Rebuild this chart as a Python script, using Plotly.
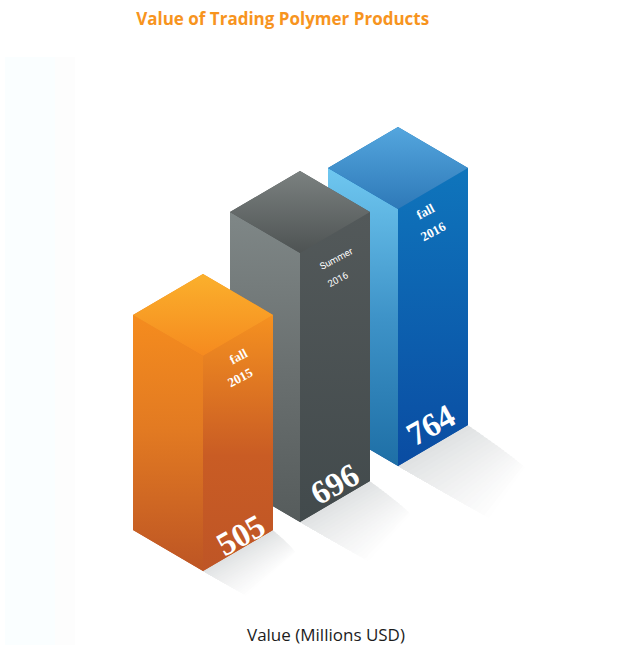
import plotly.graph_objects as go

# ---- data ----
periods = ["fall", "Summer", "fall"]
years = ["2015", "2016", "2016"]
values = [505, 696, 764]
# Column heights as drawn in the artwork (the columns are not to a common scale)
drawn_heights = [215, 269, 257]

# ---- layout of the isometric scene (page pixels) ----
base_x = [203, 300, 398]
base_y = [571, 522, 466]
HALF_W, HALF_D = 70, 41
shadow_len = [52, 82, 110]
left_cols = [[(0, "#F58C1E"), (0.45, "#E27A22"), (1, "#BD5524")],
             [(0, "#7F8787"), (0.5, "#6A7070"), (1, "#565C5C")],
             [(0, "#6FC7F0"), (0.5, "#3E93C8"), (1, "#1E6FA6")]]
right_cols = [[(0, "#F59120"), (0.55, "#C95C24"), (1, "#BE5526")],
              [(0, "#53595A"), (1, "#424A4C")],
              [(0, "#0F75BC"), (1, "#0A4CA2")]]
top_cols = [[(0, "#FBB02C"), (1, "#F58A1F")],
            [(0, "#7B8180"), (1, "#4E5353")],
            [(0, "#54A6DE"), (1, "#2E79B8")]]
period_pos = [(238, 356), (336, 258), (425, 211)]
year_pos = [(240, 377), (337, 279), (433, 231)]
value_pos = [(241, 535), (335, 484), (431, 425)]

fig = go.Figure()


def poly(xs, ys, cols, y0, y1):
    fig.add_trace(go.Scatter(
        x=xs + xs[:1], y=ys + ys[:1], mode="lines", fill="toself",
        line=dict(width=0), hoverinfo="skip", showlegend=False,
        fillgradient=dict(type="vertical", start=y0, stop=y1,
                          colorscale=[[p, c] for p, c in cols])))


def blend(t):
    a, b = (221, 223, 224), (255, 255, 255)
    return "rgb(%d,%d,%d)" % tuple(round(p + (q - p) * t) for p, q in zip(a, b))


# shadows, nested so the fade has no seams
STEPS = 20
for i in range(3):
    fx, fy = base_x[i], base_y[i]
    for s in range(STEPS, 0, -1):
        t = s / STEPS
        dx, dy = shadow_len[i] * t * 0.87, shadow_len[i] * t * 0.5
        # the far end of the shadow also narrows toward the right
        shr = 1 - 0.12 * t
        ex, ey = fx + HALF_W * shr, fy - HALF_D * shr
        fig.add_trace(go.Scatter(
            x=[fx, ex, ex + dx * (1 - 0.3 * t), fx + dx, fx],
            y=[fy, ey, ey + dy * (1 - 0.3 * t), fy + dy, fy],
            mode="lines", fill="toself", fillcolor=blend(t ** 0.8), line=dict(width=0),
            hoverinfo="skip", showlegend=False))

# columns, back to front
for i in [2, 1, 0]:
    fx, fy, h = base_x[i], base_y[i], drawn_heights[i]
    top = fy - h
    # silhouette underlay so face seams do not show the background
    poly([fx, fx + HALF_W, fx + HALF_W, fx, fx - HALF_W, fx - HALF_W],
         [fy, fy - HALF_D, top - HALF_D, top - 2 * HALF_D, top - HALF_D, fy - HALF_D],
         right_cols[i], top - 2 * HALF_D, fy)
    poly([fx - HALF_W, fx, fx, fx - HALF_W], [fy - HALF_D, fy, top, top - HALF_D],
         left_cols[i], top - HALF_D, fy)
    poly([fx, fx + HALF_W, fx + HALF_W, fx], [fy, fy - HALF_D, top - HALF_D, top],
         right_cols[i], top - HALF_D, fy)
    poly([fx, fx + HALF_W, fx, fx - HALF_W],
         [top, top - HALF_D, top - 2 * HALF_D, top - HALF_D],
         top_cols[i], top - 2 * HALF_D, top)

anns = []
for i in range(3):
    narrow = periods[i] == "Summer"
    small = dict(family="Roboto" if narrow else "Liberation Serif",
                 size=9.5 if narrow else 13, color="white")
    anns.append(dict(x=period_pos[i][0], y=period_pos[i][1], text=periods[i] if narrow else "<b>%s</b>" % periods[i],
                     textangle=-28, showarrow=False, font=small, xref="x", yref="y"))
    anns.append(dict(x=year_pos[i][0], y=year_pos[i][1], text=years[i] if narrow else "<b>%s</b>" % years[i],
                     textangle=-28, showarrow=False, font=small, xref="x", yref="y"))
    anns.append(dict(x=value_pos[i][0], y=value_pos[i][1], text="<b>%d</b>" % values[i],
                     textangle=-29, showarrow=False, xref="x", yref="y",
                     font=dict(family="Liberation Serif", size=33, color="white")))
anns.append(dict(x=326, y=634, text="Value (Millions USD)", showarrow=False, xref="x", yref="y",
                 font=dict(family="Open Sans", size=17, color="#1c1c1c")))

fig.update_layout(
    width=624, height=645, autosize=False,
    margin=dict(l=0, r=0, t=0, b=0),
    paper_bgcolor="white", plot_bgcolor="white",
    title=dict(text="<b>Value of Trading Polymer Products</b>", x=0.453, xanchor="center",
               y=0.971, yanchor="middle",
               font=dict(family="Open Sans", size=17, color="#F7941E")),
    xaxis=dict(range=[0, 624], visible=False, fixedrange=True),
    yaxis=dict(range=[645, 0], visible=False, fixedrange=True),
    annotations=anns,
    shapes=[dict(type="rect", xref="x", yref="y", x0=5, x1=55, y0=57, y1=645,
                 fillcolor="#FAFEFF", line=dict(width=0), layer="below"),
            dict(type="rect", xref="x", yref="y", x0=55, x1=75, y0=57, y1=645,
                 fillcolor="#FDFDFD", line=dict(width=0), layer="below")],
)

fig.write_html("out.html", config={"displayModeBar": False},
               post_script="document.body.style.margin='0';document.body.style.overflow='hidden';")
